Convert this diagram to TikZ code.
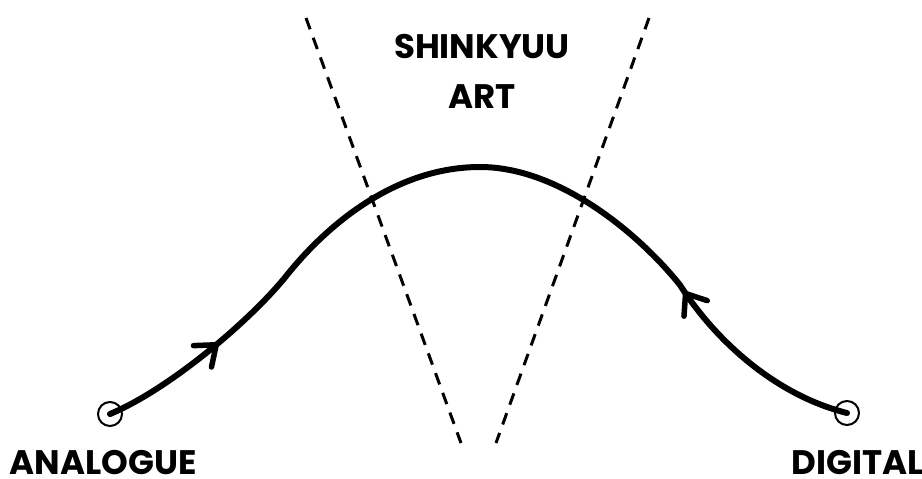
\documentclass[tikz,border=0pt]{standalone}
\usepackage{fontspec}
\setmainfont{Poppins}
\usetikzlibrary{arrows.meta,decorations.markings}
\begin{document}
\begin{tikzpicture}[x=1pt,y=-1pt,
  lbl/.style={font=\fontsize{34}{50}\selectfont\bfseries, inner sep=0pt, anchor=base},
  endpt/.style={circle, draw, line width=2pt, minimum size=24pt, inner sep=0pt},
  divider/.style={line width=3pt, dash pattern=on 12pt off 9pt},
  barb/.tip={Straight Barb[length=18pt,width=28pt,line width=5.5pt,round]},
  flow/.style={line width=6pt, line cap=round}
]
\useasboundingbox (0,0) rectangle (922,479);
% dashed dividers
\coordinate (l1) at (306,18);
\coordinate (l2) at (461,443);
\coordinate (r1) at (649,18);
\coordinate (r2) at (496,443);
\draw[divider] (l1) -- (l2);
\draw[divider] (r1) -- (r2);
% end points
\node[endpt] (A) at (110,414) {};
\node[endpt] (D) at (847,413) {};
\coordinate (M) at (287,275);
\coordinate (P) at (480,167);
\coordinate (N) at (680,285);
% curve
\draw[flow, postaction={decorate}, decoration={markings,
    mark=at position 130pt with {\arrow{barb}},
    mark=at position 702pt with {\arrowreversed{barb}}}]
  (A.center) .. controls (170,389) and (252,319) .. (M)
  .. controls (332,219) and (400,167) .. (P)
  .. controls (560,167) and (640,235) .. (N)
  .. controls (715,340) and (775,395) .. (D.center);
% labels
\node[lbl] (t1) at (482,58) {SHINKYUU};
\node[lbl] (t2) at (482,108) {ART};
\node[lbl] (ta) at (103,474) {ANALOGUE};
\node[lbl] (td) at (858,474) {DIGITAL};
\end{tikzpicture}
\end{document}
